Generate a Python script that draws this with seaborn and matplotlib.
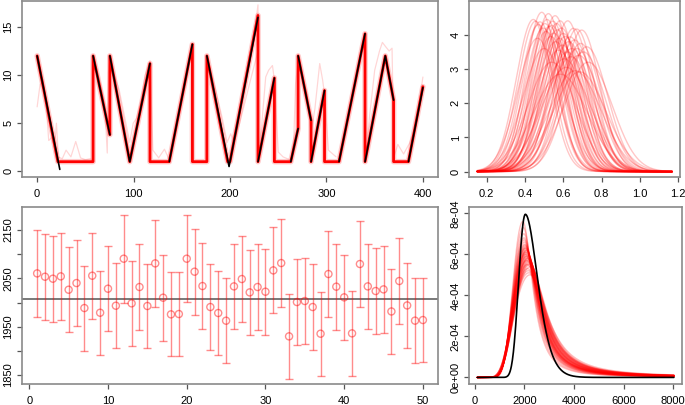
import numpy as np
import pandas as pd
import matplotlib
matplotlib.use("Agg")
import matplotlib.pyplot as plt
import seaborn as sns

# ---------------- data ----------------
# top-left: true trajectory (black) as segments
black_seg = [0, 0, 1, 1, 2, 2, 2, 3, 3, 4, 4, 4, 5, 5, 6, 6, 7, 7, 8, 8, 9, 9, 10, 10, 10, 11, 11]
black_t = [0, 23.5, 58, 75.4, 75.4, 96, 117, 137, 161, 176, 199, 229, 229, 246,
           263, 270.6, 270.6, 284, 284, 298, 313, 340, 340, 361, 369.6, 385, 400]
black_y = [12.0, 0.2, 12.0, 3.8, 12.0, 1.0, 11.2, 1.0, 13.2, 12.0, 0.5, 16.0, 1.0, 9.7,
           1.0, 4.45, 12.0, 5.3, 1.0, 8.4, 1.0, 14.3, 1.0, 12.0, 7.4, 1.0, 8.7]

# top-left: central red trace
red_t = [0, 21.5, 58, 58, 75.4, 75.4, 96, 117, 117, 137, 161, 161, 176, 176, 197.5, 200,
         229, 229, 246, 246, 263, 270.6, 270.6, 284, 284, 298, 298, 313, 340, 340, 361,
         369.6, 369.6, 385, 400]
red_y = [12.0, 1.0, 1.0, 12.0, 3.8, 12.0, 1.0, 11.2, 1.0, 1.0, 13.2, 1.0, 1.0, 12.0, 1.0, 1.0,
         16.2, 1.0, 9.7, 1.0, 1.0, 4.45, 12.0, 5.3, 1.0, 8.4, 1.0, 1.0, 14.3, 1.0, 12.0,
         7.4, 1.0, 1.0, 8.8]

# top-left: a few visibly deviating sampled traces (pink)
pink_t = [
    [0, 3, 6, 9, 12, 15, 18, 20, 22, 26, 30, 35, 40, 45, 50, 55, 58],
    [58, 62, 66, 70, 72.7, 74, 75.4, 80, 85, 90, 96, 99.6, 103, 108, 112, 117, 120, 126, 132, 137],
    [176, 185, 192, 197, 200.7, 204, 210, 220, 229],
    [229, 233, 237, 240, 244, 246, 250, 255, 262],
    [263, 266, 268, 270.6, 275, 280, 284, 288, 293, 296, 298, 302, 310],
    [340, 345, 350, 355, 358, 361, 365, 368, 370, 374, 380, 386, 392, 396, 400],
    [200, 210, 220, 226, 229, 229],
]
pink_y = [
    [6.7, 9.0, 9.5, 7.5, 3.2, 3.5, 2.5, 5.0, 1.5, 1.3, 2.2, 1.5, 3.1, 1.4, 1.2, 1.3, 1.0],
    [12, 10.5, 9, 7, 1.9, 10.3, 11.5, 10, 8.5, 6, 3, 5, 5.5, 7.5, 10, 11.5, 2.2, 1.4, 2.3, 1.2],
    [12, 8.5, 5.5, 3.0, 3.9, 3.0, 5.0, 9.0, 12.5],
    [1, 5, 9.8, 10.5, 11, 9.5, 2.0, 1.5, 1.2],
    [1, 3, 9.1, 11.5, 10, 8, 4, 6.5, 11.2, 9.5, 8, 2.2, 1.5],
    [1, 6, 10.5, 12.5, 13.4, 13, 12.5, 12.8, 1.5, 2.8, 1.8, 2.9, 4.5, 7, 9.8],
    [1.5, 6.5, 12.0, 15.0, 17.3, 1.0],
]

# top-right: posterior density curves (peak location, peak height)
tr_loc = [0.443, 0.455, 0.470, 0.478, 0.487, 0.495, 0.504, 0.510, 0.515, 0.522,
          0.528, 0.535, 0.539, 0.545, 0.550, 0.557, 0.560, 0.565, 0.570, 0.575,
          0.580, 0.583, 0.590, 0.595, 0.600, 0.605, 0.610, 0.615, 0.623, 0.628,
          0.635, 0.640, 0.645, 0.652, 0.658, 0.662, 0.670, 0.672, 0.680, 0.685,
          0.690, 0.696, 0.705, 0.722, 0.730, 0.500, 0.540, 0.585, 0.620, 0.465]
tr_peak = [4.45, 4.40, 4.30, 4.38, 4.66, 4.20, 4.33, 4.10, 4.45, 4.62,
           4.25, 3.95, 4.28, 4.40, 4.05, 4.56, 3.80, 4.33, 4.15, 3.55,
           3.90, 4.41, 4.20, 3.70, 4.04, 3.30, 3.95, 3.05, 4.41, 3.80,
           3.94, 3.36, 3.60, 4.19, 3.85, 2.95, 4.17, 3.60, 3.40, 2.92,
           3.75, 4.14, 3.50, 3.65, 3.20, 3.60, 3.20, 2.85, 3.50, 3.90]

# bottom-left: estimates with intervals, and reference line
bl_idx = list(range(1, 51))
bl_est = [2060.3, 2053.4, 2049.3, 2054.1, 2026.5, 2040.3, 1988.6, 2055.5, 1978.9, 2028.6,
          1993.4, 2090.7, 1998.3, 2032.1, 1992.8, 2081.0, 2010.0, 1975.5, 1976.2, 2090.7,
          2063.8, 2034.1, 1990.7, 1978.3, 1962.4, 2033.4, 2048.6, 2021.0, 2032.1, 2022.4,
          2066.5, 2081.7, 1930.0, 2001.0, 2003.1, 1990.7, 1935.5, 2059.0, 2032.8, 2010.7,
          1936.2, 2079.7, 2033.4, 2023.8, 2027.2, 1981.5, 2044.5, 1994.0, 1962.5, 1963.8]
bl_err = [89.7, 89.3, 89.3, 89.7, 88.3, 89.3, 87.9, 89.3, 87.2, 88.3,
          87.9, 91.0, 88.6, 89.3, 87.2, 90.0, 89.0, 86.9, 87.6, 89.7,
          89.0, 88.6, 88.3, 87.9, 87.6, 88.6, 89.3, 88.3, 89.0, 89.3,
          89.0, 90.7, 87.6, 89.0, 88.3, 88.3, 86.6, 89.3, 89.0, 88.6,
          87.2, 89.7, 88.6, 88.6, 89.3, 87.2, 88.3, 87.6, 87.6, 87.2]
bl_ref = 2006.5

# bottom-right: density curves (mode, peak height); black = truth
br_true_mode, br_true_peak = 2040, 7.95e-4
br_mode = [1940, 1960, 1980, 1990, 2000, 2010, 2020, 2030, 2040, 2050,
           2060, 2070, 2080, 2090, 2100, 2110, 2120, 2130, 2140, 2150,
           2160, 2170, 2180, 2190, 2200, 2210, 2220, 2240, 2040, 2060,
           2080, 2100, 2120, 2140, 2160, 2180, 2050, 2090, 2130, 2230]
br_peak = [7.6e-4, 7.3e-4, 7.0e-4, 6.8e-4, 6.7e-4, 6.6e-4, 6.5e-4, 6.45e-4, 6.4e-4, 6.35e-4,
           6.3e-4, 6.25e-4, 6.2e-4, 6.15e-4, 6.1e-4, 6.05e-4, 6.0e-4, 5.95e-4, 5.9e-4, 5.85e-4,
           5.8e-4, 5.75e-4, 5.7e-4, 5.65e-4, 5.6e-4, 5.55e-4, 5.5e-4, 5.4e-4, 6.3e-4, 6.1e-4,
           5.9e-4, 5.7e-4, 5.5e-4, 5.3e-4, 5.2e-4, 5.1e-4, 6.0e-4, 6.2e-4, 5.8e-4, 5.0e-4]

# ---------------- style ----------------
sns.set_theme(style="white")
plt.rcParams["font.family"] = ["Liberation Sans", "DejaVu Sans"]
FRAME = "#8a8a8a"
TICKC = "#555555"
FS = 8

fig = plt.figure(figsize=(6.85, 4.05), dpi=100)
fig.patch.set_facecolor("white")
ax_tl = fig.add_axes([0.0317, 0.5637, 0.6082, 0.4338])
ax_tr = fig.add_axes([0.6851, 0.5637, 0.3076, 0.4338])
ax_bl = fig.add_axes([0.0317, 0.0511, 0.6082, 0.4370])
ax_br = fig.add_axes([0.6851, 0.0519, 0.3101, 0.4377])


def style(ax):
    for s in ax.spines.values():
        s.set_visible(True)
        s.set_color(FRAME)
        s.set_linewidth(1.2)
    ax.set_facecolor("white")
    ax.grid(False)
    ax.tick_params(direction="out", length=3.6, width=0.9, color=TICKC,
                   labelsize=FS, labelcolor="black", pad=5,
                   bottom=True, left=True, top=False, right=False)
    ax.tick_params(axis="y", pad=2.5)
    for lbl in ax.get_yticklabels():
        lbl.set_rotation(90)
        lbl.set_va("center")
    ax.set_xlabel("")
    ax.set_ylabel("")
    if ax.get_legend() is not None:
        ax.get_legend().remove()


# ---- top-left ----
for tt, yy in zip(pink_t, pink_y):
    sns.lineplot(x=tt, y=yy, sort=False, estimator=None, color="red", alpha=0.16,
                 linewidth=0.9, ax=ax_tl)
sns.lineplot(x=red_t, y=red_y, sort=False, estimator=None, color="red", alpha=0.2,
             linewidth=4.0, ax=ax_tl)
sns.lineplot(x=red_t, y=red_y, sort=False, estimator=None, color="red", alpha=1.0,
             linewidth=2.0, ax=ax_tl)
bdf = pd.DataFrame({"t": black_t, "y": black_y, "seg": black_seg})
sns.lineplot(data=bdf, x="t", y="y", units="seg", estimator=None, sort=False,
             color="black", linewidth=1.2, ax=ax_tl)
ax_tl.set_xlim(-16, 416)
ax_tl.set_ylim(-0.56, 17.7)
ax_tl.set_xticks([0, 100, 200, 300, 400])
ax_tl.set_yticks([0, 5, 10, 15])
style(ax_tl)

# ---- top-right ----
xg = np.linspace(0.15, 1.168, 400)
rows = []
for i, (m, h) in enumerate(zip(tr_loc, tr_peak)):
    sd = 1.0 / (h * np.sqrt(2 * np.pi))
    rows.append(pd.DataFrame({"x": xg, "d": h * np.exp(-0.5 * ((xg - m) / sd) ** 2), "id": i}))
trdf = pd.concat(rows)
sns.lineplot(data=trdf, x="x", y="d", units="id", estimator=None, color="red",
             alpha=0.22, linewidth=1.0, ax=ax_tr)
ax_tr.set_xlim(0.109, 1.209)
ax_tr.set_ylim(-0.15, 4.99)
ax_tr.set_xticks([0.2, 0.4, 0.6, 0.8, 1.0, 1.2])
ax_tr.set_xticklabels(["0.2", "0.4", "0.6", "0.8", "1.0", "1.2"])
ax_tr.set_yticks([0, 1, 2, 3, 4])
style(ax_tr)

# ---- bottom-left ----
ax_bl.axhline(bl_ref, color="#6e6e6e", linewidth=1.3, zorder=1)
ax_bl.errorbar(bl_idx, bl_est, yerr=bl_err, fmt="none", ecolor="red", elinewidth=1.0,
               capsize=2.6, capthick=1.0, alpha=0.45, zorder=2)
sns.scatterplot(x=bl_idx, y=bl_est, marker="o", s=26, facecolors="none",
                edgecolor="red", linewidth=1.0, alpha=0.45, ax=ax_bl, zorder=3)
ax_bl.set_xlim(-0.96, 51.96)
ax_bl.set_ylim(1830.8, 2197)
ax_bl.set_xticks([0, 10, 20, 30, 40, 50])
ax_bl.set_yticks([1850, 1900, 1950, 2000, 2050, 2100, 2150])
ax_bl.set_yticklabels(["1850", "", "1950", "", "2050", "", "2150"])
style(ax_bl)


# ---- bottom-right ----
def peak_shape(x, mode, h, sl, sr, nu):
    z = np.log(x / mode)
    left = np.exp(-0.5 * (z / sl) ** 2)
    if nu is None:
        right = np.exp(-0.5 * (z / sr) ** 2)
    else:
        right = (1 + (z / sr) ** 2 / nu) ** (-(nu + 1) / 2)
    return h * np.where(z < 0, left, right)


xb = np.linspace(100, 8030, 600)
rows = []
for i, (m, h) in enumerate(zip(br_mode, br_peak)):
    k = 6.0e-4 / h
    rows.append(pd.DataFrame({"x": xb, "d": peak_shape(xb, m, h, 0.29 * k, 0.25 * k, 2.5), "id": i}))
brdf = pd.concat(rows)
sns.lineplot(data=brdf, x="x", y="d", units="id", estimator=None, color="red",
             alpha=0.25, linewidth=1.0, ax=ax_br)
sns.lineplot(x=xb, y=peak_shape(xb, br_true_mode, br_true_peak, 0.14, 0.215, None),
             color="black", linewidth=1.2, ax=ax_br)
ax_br.set_xlim(-221, 8345)
ax_br.set_ylim(-3.2e-5, 8.32e-4)
ax_br.set_xticks([0, 2000, 4000, 6000, 8000])
ax_br.set_xticklabels(["0", "2000", "4000", "6000", "8000"])
ax_br.set_yticks([0, 2e-4, 4e-4, 6e-4, 8e-4])
ax_br.set_yticklabels(["0e+00", "2e-04", "4e-04", "6e-04", "8e-04"])
style(ax_br)

fig.savefig("out.png", dpi=100, facecolor="white")
